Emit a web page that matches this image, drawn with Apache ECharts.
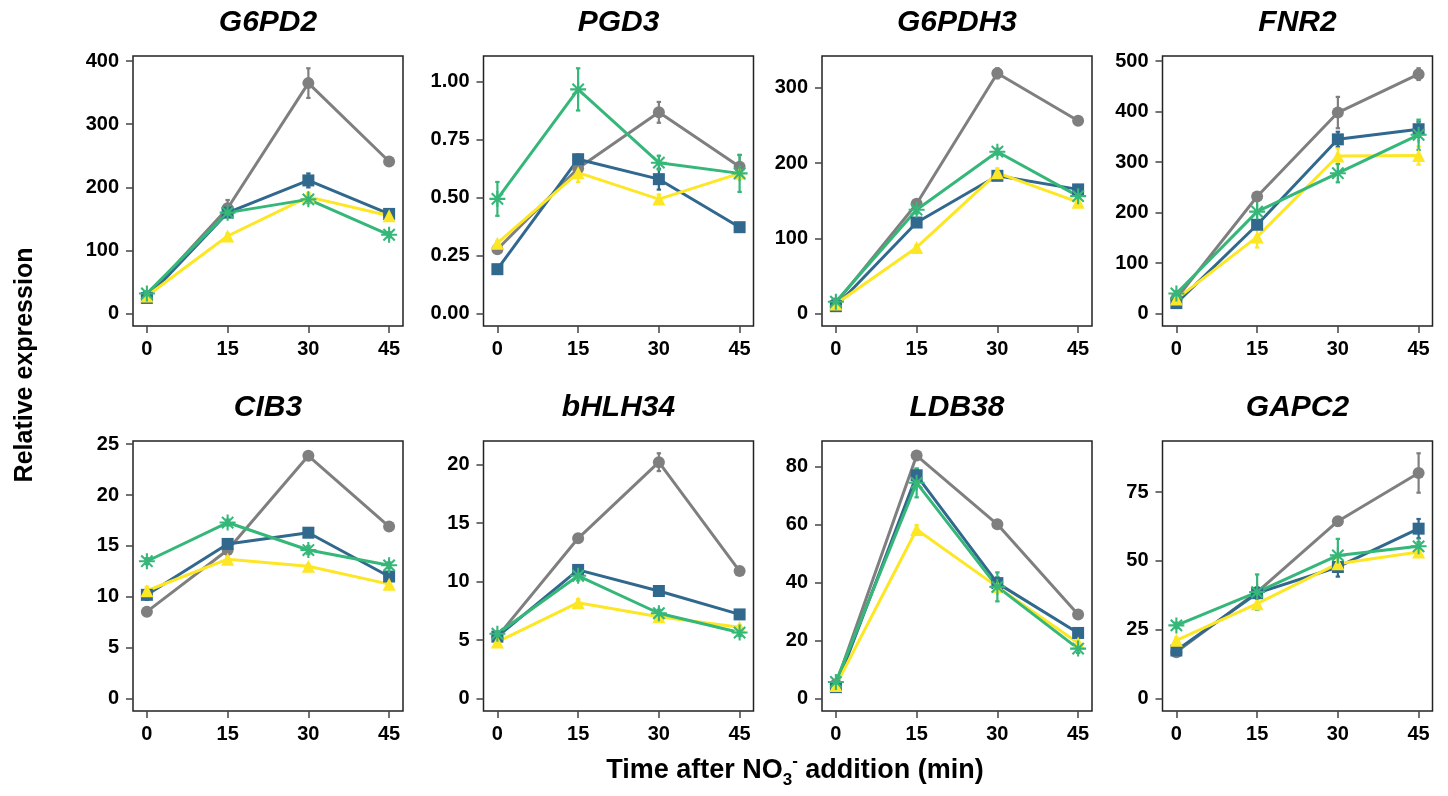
<!DOCTYPE html>
<html>
<head>
<meta charset="utf-8">
<script src="https://cdn.jsdelivr.net/npm/echarts@6/dist/echarts.min.js"></script>
<style>
html,body{margin:0;padding:0;background:#fff;}
#chart{width:1448px;height:796px;}
</style>
</head>
<body>
<div id="chart"></div>
<script>
// ---- data ----
const times = [0, 15, 30, 45];
const genes = ['G6PD2', 'PGD3', 'G6PDH3', 'FNR2', 'CIB3', 'bHLH34', 'LDB38', 'GAPC2'];
// series order in each array: gray (circle), blue (square), green (asterisk), yellow (triangle)
const G6PD2_mean = [[28, 167, 365, 241], [25, 160, 211, 158], [32, 160, 181, 125], [28, 123, 185, 155]];
const G6PD2_se   = [[2, 13, 23.5, 4], [3, 6, 11, 4], [3, 5, 6, 4], [2, 4, 6, 4]];
const PGD3_mean  = [[0.278, 0.627, 0.868, 0.634], [0.192, 0.666, 0.580, 0.373], [0.495, 0.967, 0.651, 0.605], [0.304, 0.608, 0.494, 0.605]];
const PGD3_se    = [[0.01, 0.03, 0.045, 0.05], [0.01, 0.02, 0.045, 0.01], [0.073, 0.091, 0.03, 0.08], [0.01, 0.04, 0.02, 0.02]];
const G6PDH3_mean = [[14, 146, 319, 256], [10, 121, 183, 165], [16, 138, 215, 156], [13, 88, 187, 148]];
const G6PDH3_se   = [[2, 4, 6.7, 3], [2, 4, 4, 4], [2, 5, 4, 4], [2, 3, 6, 3]];
const FNR2_mean  = [[30, 232, 398, 474], [21, 176, 345, 365], [40, 202, 278, 354], [29, 152, 312, 313]];
const FNR2_se    = [[3, 6, 31, 11.6], [3, 8, 15, 15], [5, 23, 18, 30], [3, 21, 15, 18]];
const CIB3_mean  = [[8.55, 14.6, 23.85, 16.9], [10.2, 15.2, 16.3, 12.0], [13.5, 17.3, 14.6, 13.1], [10.6, 13.7, 13.0, 11.25]];
const CIB3_se    = [[0.2, 0.2, 0.25, 0.2], [0.5, 0.3, 0.3, 0.4], [0.3, 0.3, 0.4, 0.3], [0.4, 0.2, 0.2, 0.2]];
const bHLH34_mean = [[5.3, 13.7, 20.2, 10.9], [5.3, 11.0, 9.2, 7.2], [5.55, 10.5, 7.3, 5.65], [4.85, 8.2, 7.0, 6.1]];
const bHLH34_se   = [[0.2, 0.3, 0.76, 0.2], [0.2, 0.3, 0.3, 0.2], [0.2, 0.4, 0.3, 0.3], [0.2, 0.3, 0.3, 0.2]];
const LDB38_mean = [[5, 83.9, 60.2, 29.1], [4, 77.1, 39.9, 22.7], [5.8, 74.5, 38.6, 17.3], [4.6, 58.4, 38.6, 19.2]];
const LDB38_se   = [[0.5, 0.8, 1, 1], [0.5, 2, 2, 1], [0.5, 5, 5, 1.5], [0.5, 1.5, 1.5, 1]];
const GAPC2_mean = [[16.9, 38.7, 64.4, 81.9], [17.5, 38.3, 47.8, 61.7], [26.6, 38.7, 52.0, 55.3], [21.2, 34.5, 49.0, 53.2]];
const GAPC2_se   = [[1, 1.5, 1.5, 7.15], [1, 2, 3.5, 3.5], [1, 6.4, 6, 1.5], [1, 2, 2, 1.5]];
// y tick labels per panel
const G6PD2_ticks = [0, 100, 200, 300, 400];
const PGD3_ticks = [0, 0.25, 0.5, 0.75, 1.0];
const G6PDH3_ticks = [0, 100, 200, 300];
const FNR2_ticks = [0, 100, 200, 300, 400, 500];
const CIB3_ticks = [0, 5, 10, 15, 20, 25];
const bHLH34_ticks = [0, 5, 10, 15, 20];
const LDB38_ticks = [0, 20, 40, 60, 80];
const GAPC2_ticks = [0, 25, 50, 75];

const means = [G6PD2_mean, PGD3_mean, G6PDH3_mean, FNR2_mean, CIB3_mean, bHLH34_mean, LDB38_mean, GAPC2_mean];
const ses = [G6PD2_se, PGD3_se, G6PDH3_se, FNR2_se, CIB3_se, bHLH34_se, LDB38_se, GAPC2_se];
const yTicks = [G6PD2_ticks, PGD3_ticks, G6PDH3_ticks, FNR2_ticks, CIB3_ticks, bHLH34_ticks, LDB38_ticks, GAPC2_ticks];
const yDecimals = [0, 2, 0, 0, 0, 0, 0, 0];

// ---- styles ----
const colors = ['#7F7F7F', '#31688E', '#35B779', '#FDE725'];
function asteriskPath() {
  const L = 10, w = 1.3;
  let d = '';
  [0, 45, 90, 135].forEach(a => {
    const r = a * Math.PI / 180, c = Math.cos(r), s = Math.sin(r);
    const pts = [[-w, -L], [w, -L], [w, L], [-w, L]].map(([x, y]) => [x * c - y * s, x * s + y * c]);
    d += 'M' + pts.map(p => p[0].toFixed(3) + ',' + p[1].toFixed(3)).join('L') + 'Z';
  });
  return 'path://' + d;
}
const symbols = ['circle', 'rect', asteriskPath(), 'triangle'];
const symbolSizes = [12, 12, 16, 13];
const drawOrder = [0, 1, 3, 2]; // gray, blue, yellow, green on top
const FONT = '"Liberation Sans", Arial, Helvetica, sans-serif';

const colLeft = [133, 483.5, 822, 1162.5];
const rowTop = [56, 441];
const W = 270, H = 270;

const grids = [], xAxes = [], yAxes = [], series = [], graphics = [];

genes.forEach((g, i) => {
  const col = i % 4, row = Math.floor(i / 4);
  grids.push({ left: colLeft[col], top: rowTop[row], width: W, height: H, show: true,
    borderColor: '#222', borderWidth: 1.5, backgroundColor: 'transparent' });
  // ranges (ggplot-like 5% expansion, 0 included)
  let lo = 0, hi = -Infinity;
  means[i].forEach((arr, s) => arr.forEach((v, k) => {
    lo = Math.min(lo, v - ses[i][s][k]);
    hi = Math.max(hi, v + ses[i][s][k]);
  }));
  const pad = (hi - lo) * 0.05;
  const xlo = -0.3, xhi = 45.3, xpad = (xhi - xlo) * 0.05;
  xAxes.push({ type: 'value', gridIndex: i, min: xlo - xpad, max: xhi + xpad,
    axisLine: { show: false, onZero: false }, splitLine: { show: false },
    axisTick: { show: true, inside: false, length: 7, lineStyle: { color: '#444', width: 1.5 }, customValues: times },
    axisLabel: { customValues: times, fontSize: 20, fontWeight: 'bold', color: '#000', fontFamily: FONT, margin: 13 }
  });
  const dec = yDecimals[i];
  yAxes.push({ type: 'value', gridIndex: i, min: lo - pad, max: hi + pad,
    axisLine: { show: false, onZero: false }, splitLine: { show: false },
    axisTick: { show: true, inside: false, length: 7, lineStyle: { color: '#444', width: 1.5 }, customValues: yTicks[i] },
    axisLabel: { customValues: yTicks[i], fontSize: 20, fontWeight: 'bold', color: '#000', fontFamily: FONT, margin: 14,
      formatter: v => Number(v).toFixed(dec) }
  });
  drawOrder.forEach(s => {
    const pts = times.map((t, k) => [t, means[i][s][k]]);
    series.push({ type: 'line', xAxisIndex: i, yAxisIndex: i, data: pts, showSymbol: false, symbol: 'none',
      lineStyle: { color: colors[s], width: 3 }, z: 2, animation: false, silent: true });
    series.push({ type: 'custom', xAxisIndex: i, yAxisIndex: i, z: 3, animation: false, silent: true,
      data: times.map((t, k) => [t, means[i][s][k] - ses[i][s][k], means[i][s][k] + ses[i][s][k]]),
      renderItem: (params, api) => {
        const p1 = api.coord([api.value(0), api.value(1)]);
        const p2 = api.coord([api.value(0), api.value(2)]);
        const hw = 2.2;
        const st = { stroke: colors[s], lineWidth: 2.2 };
        return { type: 'group', children: [
          { type: 'line', shape: { x1: p1[0], y1: p1[1], x2: p2[0], y2: p2[1] }, style: st },
          { type: 'line', shape: { x1: p1[0] - hw, y1: p1[1], x2: p1[0] + hw, y2: p1[1] }, style: st },
          { type: 'line', shape: { x1: p2[0] - hw, y1: p2[1], x2: p2[0] + hw, y2: p2[1] }, style: st }
        ]};
      }
    });
    series.push({ type: 'scatter', xAxisIndex: i, yAxisIndex: i, data: pts, symbol: symbols[s],
      symbolSize: symbolSizes[s], itemStyle: { color: colors[s], opacity: 1 }, z: 4, animation: false, silent: true });
  });
  graphics.push({ type: 'text', x: colLeft[col] + W / 2, y: rowTop[row] - 33,
    style: { text: g, font: 'italic bold 30px ' + FONT, fill: '#000',
      align: 'center', verticalAlign: 'middle', textAlign: 'center', textVerticalAlign: 'middle' } });
});

graphics.push({ type: 'text', x: 25, y: 365, rotation: Math.PI / 2,
  style: { text: 'Relative expression', font: 'bold 25px ' + FONT, fill: '#000',
    align: 'center', verticalAlign: 'middle', textAlign: 'center', textVerticalAlign: 'middle' } });
graphics.push({ type: 'text', x: 795, y: 771,
  style: { text: 'Time after NO{sub|3}{sup|-} addition (min)', fontSize: 27, fontWeight: 'bold', fontFamily: FONT, fill: '#000',
    lineHeight: 36, align: 'center', verticalAlign: 'middle', textAlign: 'center', textVerticalAlign: 'middle',
    rich: {
      sub: { fontSize: 17, fontWeight: 'bold', fontFamily: FONT, fill: '#000', verticalAlign: 'bottom', lineHeight: 17 },
      sup: { fontSize: 17, fontWeight: 'bold', fontFamily: FONT, fill: '#000', verticalAlign: 'top', lineHeight: 17 }
    } } });

const chart = echarts.init(document.getElementById('chart'), null, { renderer: 'canvas' });
chart.setOption({
  backgroundColor: '#fff',
  animation: false,
  grid: grids, xAxis: xAxes, yAxis: yAxes, series: series, graphic: graphics
});
</script>
</body>
</html>
